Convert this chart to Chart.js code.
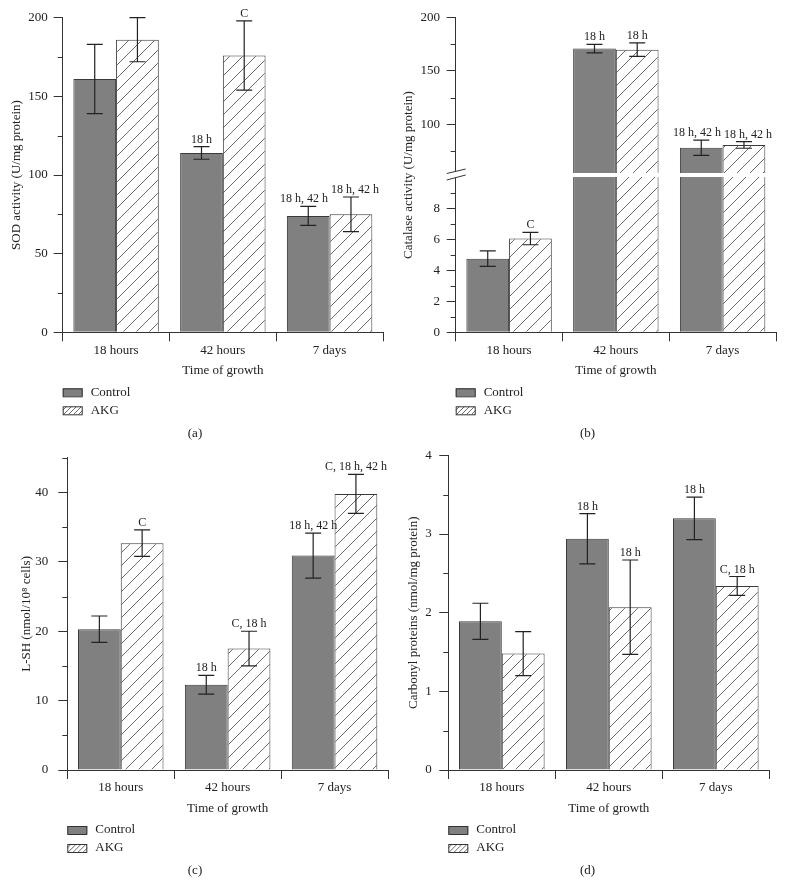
<!DOCTYPE html>
<html>
<head>
<meta charset="utf-8">
<script src="https://cdn.jsdelivr.net/npm/chart.js@4.4.1/dist/chart.umd.min.js"></script>
<style>
  body { margin: 0; background: #fff; }
  #wrap { position: relative; width: 785px; height: 896px; }
  canvas { position: absolute; }
</style>
</head>
<body>
<div id="wrap">
  <canvas id="chartA" width="390" height="440" style="left:0;top:0"></canvas>
  <canvas id="chartB" width="395" height="440" style="left:390px;top:0"></canvas>
  <canvas id="chartC" width="390" height="456" style="left:0;top:440px"></canvas>
  <canvas id="chartD" width="395" height="456" style="left:390px;top:440px"></canvas>
</div>
<script>
const categories = ['18 hours', '42 hours', '7 days'];
const seriesNames = ['Control', 'AKG'];

// (a) SOD activity
const sodControl = [161, 114, 74];
const sodControlErr = [22, 4, 6];
const sodAkg = [186, 176, 75];
const sodAkgErr = [14, 22, 11];
const sodControlMarks = ['', '18 h', '18 h, 42 h'];
const sodAkgMarks = ['', 'C', '18 h, 42 h'];
const sodTicks = [0, 25, 50, 75, 100, 125, 150, 175, 200];
const sodLabels = [0, 50, 100, 150, 200];

// (b) Catalase activity (broken axis)
const catControl = [4.75, 171, 78];
const catControlErr = [0.5, 4, 7.2];
const catAkg = [6.05, 170, 80.6];
const catAkgErr = [0.4, 6.3, 3.1];
const catControlMarks = ['', '18 h', '18 h, 42 h'];
const catAkgMarks = ['C', '18 h', '18 h, 42 h'];
const catLowTicks = [0, 1, 2, 3, 4, 5, 6, 7, 8, 9];
const catLowLabels = [0, 2, 4, 6, 8];
const catHighTicks = [75, 100, 125, 150, 175, 200];
const catHighLabels = [100, 150, 200];

// (c) L-SH
const lshControl = [20.3, 12.3, 30.9];
const lshControlErr = [1.9, 1.35, 3.25];
const lshAkg = [32.7, 17.5, 39.8];
const lshAkgErr = [1.9, 2.5, 2.8];
const lshControlMarks = ['', '18 h', '18 h, 42 h'];
const lshAkgMarks = ['C', 'C, 18 h', 'C, 18 h, 42 h'];
const lshTicks = [0, 5, 10, 15, 20, 25, 30, 35, 40, 45];
const lshLabels = [0, 10, 20, 30, 40];

// (d) Carbonyl proteins
const carControl = [1.89, 2.94, 3.2];
const carControlErr = [0.23, 0.32, 0.27];
const carAkg = [1.48, 2.07, 2.34];
const carAkgErr = [0.28, 0.6, 0.12];
const carControlMarks = ['', '18 h', '18 h'];
const carAkgMarks = ['', '18 h', 'C, 18 h'];
const carTicks = [0, 0.5, 1, 1.5, 2, 2.5, 3, 3.5, 4];
const carLabels = [0, 1, 2, 3, 4];

const FONT = '"Liberation Serif", "DejaVu Serif", serif';
const INK = '#222';
const AXIS = '#333';
const GREY = '#808080';

function makeHatch(step, color) {
  const c = document.createElement('canvas');
  c.width = step; c.height = step;
  const g = c.getContext('2d');
  g.fillStyle = '#fff';
  g.fillRect(0, 0, step, step);
  g.strokeStyle = color;
  g.lineWidth = 1;
  g.beginPath();
  g.moveTo(-1, step + 1); g.lineTo(step + 1, -1);
  g.moveTo(-1, 1); g.lineTo(1, -1);
  g.moveTo(step - 1, step + 1); g.lineTo(step + 1, step - 1);
  g.stroke();
  return g.createPattern(c, 'repeat');
}
const hatch = makeHatch(13, '#6a6a6a');

function yScale(p, ticks, labels, extra) {
  return Object.assign({
    position: 'left',
    afterFit: s => { s.width = p.axisW; },
    afterBuildTicks: s => { s.ticks = ticks.map(v => ({ value: v })); },
    border: { color: AXIS, width: 1 },
    grid: {
      drawOnChartArea: false, tickLength: 9,
      tickColor: ctx => (ctx.tick && labels.includes(ctx.tick.value)) ? AXIS : 'rgba(0,0,0,0)'
    },
    ticks: {
      autoSkip: false, padding: p.tickPad, color: INK,
      font: { family: FONT, size: 13 },
      callback: v => labels.includes(v) ? String(v) : ''
    }
  }, extra);
}

function makePanel(id, p) {
  const decor = {
    id: 'decor' + id,
    afterDatasetsDraw(chart) {
      const ctx = chart.ctx;
      const area = chart.chartArea;

      // minor ticks
      ctx.save();
      ctx.strokeStyle = AXIS;
      ctx.lineWidth = 1;
      p.yIds.forEach((k, i) => {
        const s = chart.scales[k];
        p.minor[i].forEach(v => {
          const y = Math.round(s.getPixelForValue(v)) + 0.5;
          ctx.beginPath();
          ctx.moveTo(area.left - 5, y); ctx.lineTo(area.left, y);
          ctx.stroke();
        });
      });
      ctx.restore();

      // axis break
      if (p.broken) {
        const yb = chart.scales.y.top;
        const l = area.left;
        ctx.save();
        ctx.fillStyle = '#fff';
        ctx.fillRect(l + 1, yb - 2, area.right - l, 4);
        ctx.beginPath();
        ctx.moveTo(l - 9, yb - 1.5); ctx.lineTo(l + 10, yb - 6);
        ctx.lineTo(l + 10, yb); ctx.lineTo(l - 9, yb + 5);
        ctx.closePath();
        ctx.fill();
        ctx.strokeStyle = AXIS;
        ctx.lineWidth = 1;
        ctx.beginPath();
        ctx.moveTo(l - 9, yb - 1.5); ctx.lineTo(l + 10, yb - 6);
        ctx.moveTo(l - 9, yb + 5); ctx.lineTo(l + 10, yb);
        ctx.stroke();
        ctx.restore();
      }

      const yPix = v => {
        if (p.broken) return v > p.lowMax ? chart.scales.y2.getPixelForValue(v) : chart.scales.y.getPixelForValue(v);
        return chart.scales.y.getPixelForValue(v);
      };

      ctx.save();
      ctx.font = '12px ' + FONT;
      const metas = p.series.map((s, si) => chart.getDatasetMeta(si));
      categories.forEach((cat, i) => {
        const items = p.series.map((s, si) => ({
          x: metas[si].data[i].x,
          top: yPix(s.values[i] + s.errs[i]),
          bot: yPix(s.values[i] - s.errs[i]),
          mark: s.marks[i],
          w: s.marks[i] ? ctx.measureText(s.marks[i]).width : 0
        }));
        // keep neighbouring marks apart when they sit at the same height
        const [c, a] = items;
        let cx = c.x, ax = a.x;
        if (c.mark && a.mark && Math.abs(c.top - a.top) < 14) {
          const overlap = (c.w + a.w) / 2 + 3 - (a.x - c.x);
          if (overlap > 0) { cx -= overlap / 2; ax += overlap / 2; }
        }
        const textX = [cx, ax];
        items.forEach((it, k) => {
          ctx.strokeStyle = INK;
          ctx.lineWidth = 1.2;
          ctx.beginPath();
          ctx.moveTo(it.x, it.top); ctx.lineTo(it.x, it.bot);
          ctx.moveTo(it.x - 8, it.top); ctx.lineTo(it.x + 8, it.top);
          ctx.moveTo(it.x - 8, it.bot); ctx.lineTo(it.x + 8, it.bot);
          ctx.stroke();
          if (it.mark) {
            ctx.fillStyle = INK;
            ctx.textAlign = 'center';
            ctx.textBaseline = 'alphabetic';
            ctx.fillText(it.mark, textX[k], it.top - 4);
          }
        });
      });
      ctx.restore();
    },
    afterDraw(chart) {
      const ctx = chart.ctx;
      const area = chart.chartArea;
      ctx.save();
      // vertical title for broken axis
      if (p.broken) {
        ctx.translate(p.titleX, (area.top + area.bottom) / 2);
        ctx.rotate(-Math.PI / 2);
        ctx.fillStyle = INK;
        ctx.font = '13px ' + FONT;
        ctx.textAlign = 'center';
        ctx.textBaseline = 'middle';
        ctx.fillText(p.yTitle, 0, 0);
        ctx.setTransform(1, 0, 0, 1, 0, 0);
      }
      // legend
      const lx = area.left;
      const rows = [area.bottom + 60, area.bottom + 78];
      ctx.strokeStyle = '#333';
      ctx.lineWidth = 1;
      ctx.fillStyle = GREY;
      ctx.fillRect(lx, rows[0] - 4, 20, 8);
      ctx.strokeRect(lx + 0.5, rows[0] - 4 + 0.5, 19, 8);
      ctx.fillStyle = '#fff';
      ctx.fillRect(lx, rows[1] - 4, 20, 8);
      ctx.save();
      ctx.beginPath();
      ctx.rect(lx, rows[1] - 4, 20, 8);
      ctx.clip();
      ctx.strokeStyle = '#6a6a6a';
      ctx.beginPath();
      for (let k = -10; k < 30; k += 5) {
        ctx.moveTo(lx + k, rows[1] + 5);
        ctx.lineTo(lx + k + 9, rows[1] - 4);
      }
      ctx.stroke();
      ctx.restore();
      ctx.strokeRect(lx + 0.5, rows[1] - 4 + 0.5, 19, 8);
      ctx.fillStyle = INK;
      ctx.font = '13px ' + FONT;
      ctx.textAlign = 'left';
      ctx.textBaseline = 'middle';
      ctx.fillText(seriesNames[0], lx + 28, rows[0]);
      ctx.fillText(seriesNames[1], lx + 28, rows[1]);
      // caption
      ctx.textAlign = 'center';
      ctx.fillText(p.caption, chart.width / 2, area.bottom + 101);
      ctx.restore();
    }
  };

  const barStyle = {
    borderColor: '#3a3a3a', borderWidth: 1,
    categoryPercentage: 0.8, barPercentage: 1.0, borderSkipped: 'bottom'
  };

  let datasets, scales;
  const xScale = {
    afterFit: s => { s.height = 48; },
    border: { color: AXIS, width: 1 },
    grid: { offset: true, drawOnChartArea: false, tickLength: 9, color: AXIS },
    ticks: { padding: 1, color: INK, font: { family: FONT, size: 13 } },
    title: {
      display: true, text: 'Time of growth', color: INK,
      font: { family: FONT, size: 13 }, padding: { top: 0, bottom: 2 }
    }
  };

  if (p.broken) {
    const c = p.series[0].values, a = p.series[1].values;
    datasets = [
      Object.assign({ label: seriesNames[0], data: c.map(v => Math.min(v, p.lowMax)), backgroundColor: GREY, yAxisID: 'y', stack: 'c' }, barStyle),
      Object.assign({ label: seriesNames[1], data: a.map(v => Math.min(v, p.lowMax)), backgroundColor: hatch, yAxisID: 'y', stack: 'a' }, barStyle),
      Object.assign({ label: seriesNames[0], data: c.map(v => v > p.lowMax ? v : null), backgroundColor: GREY, yAxisID: 'y2', stack: 'c' }, barStyle),
      Object.assign({ label: seriesNames[1], data: a.map(v => v > p.lowMax ? v : null), backgroundColor: hatch, yAxisID: 'y2', stack: 'a' }, barStyle)
    ];
    xScale.stacked = true;
    scales = {
      x: xScale,
      y: yScale(p, catLowTicks, catLowLabels, { min: 0, max: p.lowMax, stack: 'cat', stackWeight: 1 }),
      y2: yScale(p, catHighTicks, catHighLabels, { min: p.highMin, max: 200, stack: 'cat', stackWeight: 1 })
    };
  } else {
    datasets = [
      Object.assign({ label: seriesNames[0], data: p.series[0].values, backgroundColor: GREY }, barStyle),
      Object.assign({ label: seriesNames[1], data: p.series[1].values, backgroundColor: hatch }, barStyle)
    ];
    scales = {
      x: xScale,
      y: yScale(p, p.ticks, p.labels, {
        min: p.min, max: p.max,
        title: {
          display: true, text: p.yTitle, color: INK,
          font: { family: FONT, size: 13 }, padding: { top: p.titlePad, bottom: 0 }
        }
      })
    };
  }

  new Chart(document.getElementById(id), {
    type: 'bar',
    data: { labels: categories, datasets: datasets },
    options: {
      responsive: false,
      animation: false,
      layout: { padding: p.padding },
      plugins: { legend: { display: false }, tooltip: { enabled: false } },
      scales: scales
    },
    plugins: [decor]
  });
}

const minorOf = (ticks, labels) => ticks.filter(v => !labels.includes(v));

makePanel('chartA', {
  caption: '(a)', yTitle: 'SOD activity (U/mg protein)',
  axisW: 62.7, tickPad: 6, titlePad: 9.2,
  padding: { left: 0, right: 7, top: 17.7, bottom: 59.7 },
  min: 0, max: 200, ticks: sodTicks, labels: sodLabels,
  yIds: ['y'], minor: [minorOf(sodTicks, sodLabels)],
  series: [
    { values: sodControl, errs: sodControlErr, marks: sodControlMarks },
    { values: sodAkg, errs: sodAkgErr, marks: sodAkgMarks }
  ]
});

makePanel('chartB', {
  caption: '(b)', yTitle: 'Catalase activity (U/mg protein)',
  broken: true, lowMax: 10.15, highMin: 52.4, titleX: 18.5,
  axisW: 65.7, tickPad: 6.7,
  padding: { left: 0, right: 9, top: 17.7, bottom: 59.7 },
  yIds: ['y', 'y2'],
  minor: [minorOf(catLowTicks, catLowLabels), minorOf(catHighTicks, catHighLabels)],
  series: [
    { values: catControl, errs: catControlErr, marks: catControlMarks },
    { values: catAkg, errs: catAkgErr, marks: catAkgMarks }
  ]
});

makePanel('chartC', {
  caption: '(c)', yTitle: 'L-SH (nmol/10⁸ cells)',
  axisW: 67.3, tickPad: 10, titlePad: 19.2,
  padding: { left: 0, right: 2, top: 15, bottom: 78 },
  min: 0, max: 45, ticks: lshTicks, labels: lshLabels,
  yIds: ['y'], minor: [minorOf(lshTicks, lshLabels)],
  series: [
    { values: lshControl, errs: lshControlErr, marks: lshControlMarks },
    { values: lshAkg, errs: lshAkgErr, marks: lshAkgMarks }
  ]
});

makePanel('chartD', {
  caption: '(d)', yTitle: 'Carbonyl proteins (nmol/mg protein)',
  axisW: 58.3, tickPad: 7.6, titlePad: 16,
  padding: { left: 0, right: 15.7, top: 15.3, bottom: 78 },
  min: 0, max: 4, ticks: carTicks, labels: carLabels,
  yIds: ['y'], minor: [minorOf(carTicks, carLabels)],
  series: [
    { values: carControl, errs: carControlErr, marks: carControlMarks },
    { values: carAkg, errs: carAkgErr, marks: carAkgMarks }
  ]
});
</script>
</body>
</html>
